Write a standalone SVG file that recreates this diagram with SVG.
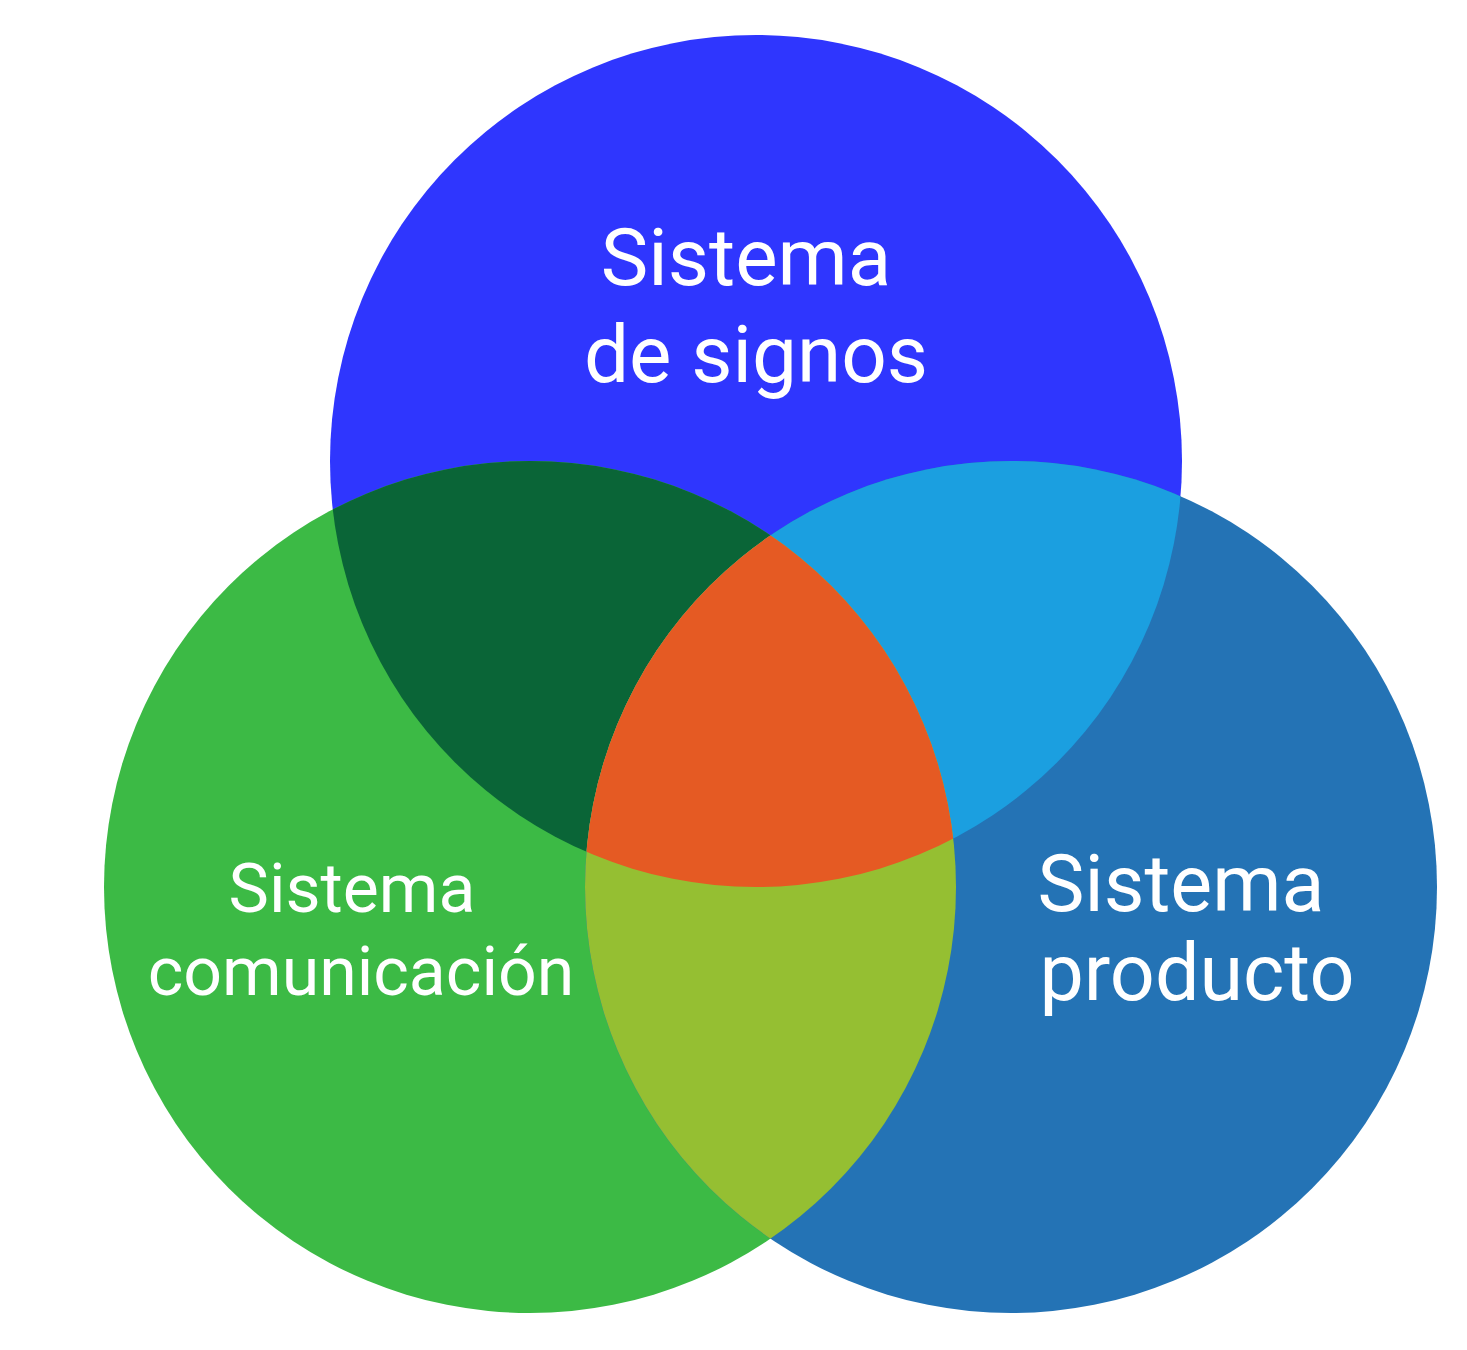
<svg xmlns="http://www.w3.org/2000/svg" width="1467" height="1350" viewBox="0 0 1467 1350">
<style>
.lbl{font-family:Roboto,"Liberation Sans",sans-serif;fill:#ffffff;text-anchor:middle}
</style>
<defs>
<clipPath id="cTop"><circle cx="756" cy="461" r="426"/></clipPath>
<clipPath id="cLeft"><circle cx="530" cy="887" r="426"/></clipPath>
<clipPath id="cRight"><circle cx="1011" cy="887" r="426"/></clipPath>
</defs>
<rect width="1467" height="1350" fill="#ffffff"/>
<g id="node-signos"><circle cx="756" cy="461" r="426" fill="#2F36FE"/></g>
<g id="node-comunicacion"><circle cx="530" cy="887" r="426" fill="#3CBA45"/></g>
<g id="node-producto"><circle cx="1011" cy="887" r="426" fill="#2473B5"/></g>
<g id="intersections">
<circle cx="530" cy="887" r="426" fill="#0A6537" clip-path="url(#cTop)"/>
<circle cx="1011" cy="887" r="426" fill="#1B9FE0" clip-path="url(#cTop)"/>
<circle cx="1011" cy="887" r="426" fill="#95BF32" clip-path="url(#cLeft)"/>
<g clip-path="url(#cTop)"><circle cx="1011" cy="887" r="426" fill="#E55A23" clip-path="url(#cLeft)"/></g>
</g>
<g id="labels">
<text class="lbl" font-size="80"><tspan x="746" y="285">Sistema</tspan><tspan x="756" y="382">de signos</tspan></text>
<text class="lbl" font-size="68"><tspan x="352" y="912">Sistema</tspan><tspan x="361" y="995">comunicación</tspan></text>
<text class="lbl" font-size="79"><tspan x="1181" y="911">Sistema</tspan><tspan x="1197" y="1000">producto</tspan></text>
</g>
<g id="connectors"></g>
</svg>
